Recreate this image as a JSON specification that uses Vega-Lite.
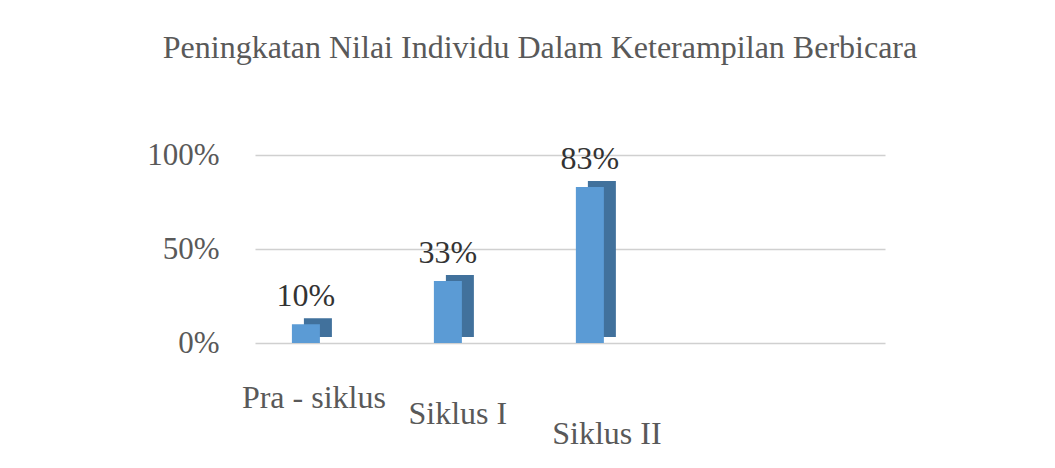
{
  "$schema": "https://vega.github.io/schema/vega-lite/v6.json",
  "autosize": "none",
  "width": 630,
  "height": 188,
  "padding": {"left": 255, "top": 155, "right": 170, "bottom": 125},
  "background": "white",
  "config": {"view": {"stroke": null}, "font": "Liberation Serif"},
  "title": {
    "text": "Peningkatan Nilai Individu Dalam Keterampilan Berbicara",
    "font": "Liberation Serif",
    "fontSize": 32,
    "fontWeight": "normal",
    "color": "#595959",
    "anchor": "middle",
    "dx": -30,
    "offset": 74
  },
  "data": {
    "values": [
      {"siklus": "Pra - siklus", "nilai": 0.10},
      {"siklus": "Siklus I", "nilai": 0.33},
      {"siklus": "Siklus II", "nilai": 0.83}
    ]
  },
  "encoding": {
    "x": {
      "field": "siklus",
      "type": "nominal",
      "sort": null,
      "scale": {"paddingInner": 0.563, "paddingOuter": 1, "align": 0.07},
      "axis": {
        "title": null,
        "domain": false,
        "ticks": false,
        "tickSize": 0,
        "labelAngle": 0,
        "labelFont": "Liberation Serif",
        "labelFontSize": 32,
        "labelColor": "#595959",
        "labelBaseline": "middle",
        "labelPadding": {"expr": "datum.value == 'Pra - siklus' ? 54 : datum.value == 'Siklus I' ? 70 : 90"},
        "labelOffset": {"expr": "datum.value == 'Pra - siklus' ? 8 : datum.value == 'Siklus I' ? 10 : 17"}
      }
    },
    "y": {
      "field": "nilai",
      "type": "quantitative",
      "scale": {"domain": [0, 1]},
      "axis": {
        "title": null,
        "values": [0, 0.5, 1],
        "format": ".0%",
        "domain": false,
        "ticks": false,
        "labelFont": "Liberation Serif",
        "labelFontSize": 31,
        "labelColor": "#595959",
        "labelPadding": 36,
        "gridColor": "#d0d0d0",
        "gridWidth": 1.5
      }
    }
  },
  "layer": [
    {"mark": {"type": "bar", "color": "#41719C", "width": 28, "xOffset": 12, "yOffset": -6}},
    {"mark": {"type": "bar", "color": "#5B9BD5", "width": 28}},
    {
      "mark": {"type": "text", "font": "Liberation Serif", "fontSize": 32, "color": "#333333", "baseline": "alphabetic", "dy": -18},
      "encoding": {"text": {"field": "nilai", "type": "quantitative", "format": ".0%"}}
    }
  ]
}
